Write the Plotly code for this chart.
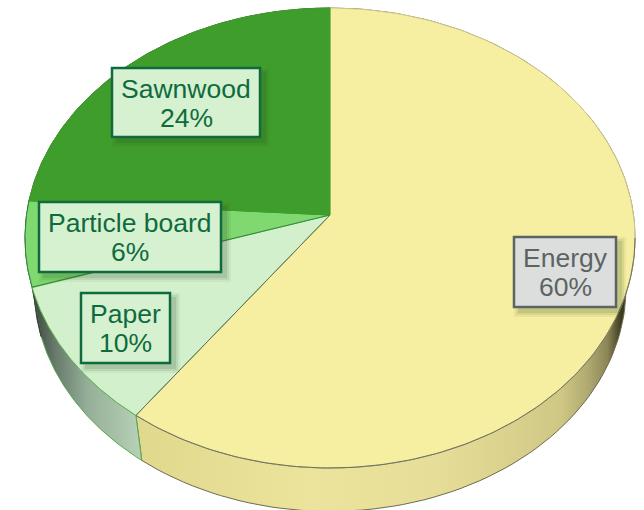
import numpy as np
import plotly.graph_objects as go

# Data (clockwise from the top of the pie)
categories = ["Energy", "Paper", "Particle board", "Sawnwood"]
shares = [60, 10, 6, 24]

# Styles
top_colors = ["#f6eea0", "#d3f0cd", "#7fd870", "#3f9e2b"]
edge_colors = ["#cfc98a", "#5cb350", "#2f8a35", "#3f9e2b"]
wall_scales = [
    [[0, "#e0d88c"], [0.35, "#ece49c"], [0.6, "#e6de98"], [0.78, "#d6ce8a"], [0.85, "#cfc885"],
     [0.905, "#b0aa72"], [0.945, "#8a8555"], [0.972, "#3f3c22"], [1, "#2a2815"]],
    [[0, "#3a463a"], [0.2, "#66786a"], [0.5, "#94ae98"], [1, "#b8d2b8"]],
    [[0, "#3a463a"], [1, "#3a463a"]],
    [[0, "#3a463a"], [1, "#3a463a"]],
]
wall_edges = ["#6d6a50", "#58a850", "#3a463a", "#3a463a"]
box_fill = ["#dcdedd", "#d6f1d0", "#d6f1d0", "#d6f1d0"]
box_line = ["#5c6463", "#0f6b3f", "#0f6b3f", "#0f6b3f"]
boxes = [(514, 237, 616, 307), (81, 293, 170, 363), (39, 202, 221, 272), (112, 68, 260, 137)]

# Projection of the tilted disc
CX, CY, A, B, K = 330, 215, 303.5, 227.7, 0.0999
WALL_SCALE, WALL_DROP = 0.97, 51


def rim(theta, scale=1.0, drop=0.0):
    u, v = np.sin(theta), np.cos(theta)
    d = 1 + K * v
    return CX + scale * A * u / d, CY + drop + scale * B * (-v) / d


edges = np.radians(np.cumsum([0] + shares) * 3.6)
fig = go.Figure()

# Side walls
for i, name in enumerate(categories):
    th = np.linspace(edges[i], edges[i + 1], 120)
    x1, y1 = rim(th)
    x2, y2 = rim(th[::-1], WALL_SCALE, WALL_DROP)
    fig.add_trace(go.Scatter(
        x=np.r_[x1, x2, x1[0]], y=np.r_[y1, y2, y1[0]], mode="lines",
        line=dict(color=wall_edges[i], width=1), fill="toself",
        fillgradient=dict(type="horizontal", colorscale=wall_scales[i]),
        hoverinfo="skip", showlegend=False, name=name + " side"))

# Top surface
for i, name in enumerate(categories):
    th = np.linspace(edges[i], edges[i + 1], 160)
    x1, y1 = rim(th)
    fig.add_trace(go.Scatter(
        x=np.r_[CX, x1, CX], y=np.r_[CY, y1, CY], mode="lines",
        line=dict(color=edge_colors[i], width=1), fill="toself",
        fillcolor=top_colors[i], name=name, hoverinfo="skip", showlegend=False))

# Darker front rim and radial edge of the largest slice
th = np.linspace(np.pi / 2 + 0.1, edges[1], 120)
x1, y1 = rim(th)
fig.add_trace(go.Scatter(x=np.r_[x1, CX], y=np.r_[y1, CY], mode="lines",
                         line=dict(color="#6f6f60", width=1), hoverinfo="skip", showlegend=False))

shapes, annotations = [], []
for i, name in enumerate(categories):
    x0, y0, x1, y1 = boxes[i]
    for grow, op in ((5, 0.06), (3, 0.09), (1, 0.12)):
        shapes.append(dict(type="rect", xref="x", yref="y", line_width=0,
                           x0=x0 + 5 - grow, y0=y0 + 5 - grow, x1=x1 + 5 + grow, y1=y1 + 5 + grow,
                           fillcolor="#2c4a1e", opacity=op))
    shapes.append(dict(type="rect", xref="x", yref="y", x0=x0, y0=y0, x1=x1, y1=y1,
                       fillcolor=box_fill[i], line=dict(color=box_line[i], width=2.5)))
    for text, off in ((name, 20.5), (f"{shares[i]}%", 50)):
        annotations.append(dict(x=(x0 + x1) / 2, y=y0 + off, xref="x", yref="y",
                                text=text, showarrow=False, align="center",
                                font=dict(family="Liberation Sans", size=26.5, color=box_line[i])))

fig.update_layout(
    width=644, height=510, margin=dict(l=0, r=0, t=0, b=0), autosize=False,
    paper_bgcolor="white", plot_bgcolor="white", showlegend=False,
    xaxis=dict(range=[0, 644], visible=False, fixedrange=True),
    yaxis=dict(range=[510, 0], visible=False, fixedrange=True),
    shapes=shapes, annotations=annotations)

fig.write_html("out.html", config=dict(displayModeBar=False),
               post_script="document.body.style.margin='0';")
